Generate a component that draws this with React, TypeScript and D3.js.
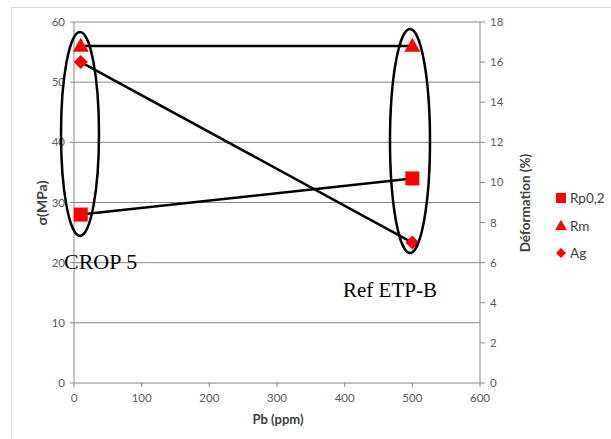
import React from "react";
import * as d3 from "d3";

const pbValues = [10, 500];
const rp02 = [28, 34];
const rm = [56, 56];
const ag = [16, 7];
const xTicks = [0, 100, 200, 300, 400, 500, 600];
const yLeftTicks = [0, 10, 20, 30, 40, 50, 60];
const yRightTicks = [0, 2, 4, 6, 8, 10, 12, 14, 16, 18];
const legendItems = ["Rp0,2", "Rm", "Ag"];

const W = 611, H = 439;
const left = 74, right = 480, top = 22, bottom = 383;
const font = "Lato, 'Open Sans', sans-serif";
const RED = "#ff0000";

export default function App() {
  const x = d3.scaleLinear().domain([0, 600]).range([left, right]);
  const yL = d3.scaleLinear().domain([0, 60]).range([bottom, top]);
  const yR = d3.scaleLinear().domain([0, 18]).range([bottom, top]);
  const line = d3.line<[number, number]>().x(d => d[0]).y(d => d[1]);
  const rpPts = pbValues.map((p, i) => [x(p), yL(rp02[i])] as [number, number]);
  const rmPts = pbValues.map((p, i) => [x(p), yL(rm[i])] as [number, number]);
  const agPts = pbValues.map((p, i) => [x(p), yR(ag[i])] as [number, number]);
  const tri = d3.symbol().type(d3.symbolTriangle).size(110)();
  const dia = (s: number) => `M0,${-s}L${s},0L0,${s}L${-s},0Z`;
  const tickColor = "#595959";
  return (
    <svg width={W} height={H} style={{ position: "absolute", left: 0, top: 0 }}>
      <rect x={0} y={0} width={W} height={H} fill="#fff" />
      <rect x={11.5} y={7.5} width={W} height={H} fill="none" stroke="#d9d9d9" />
      {yLeftTicks.map(t => (
        <line key={"g" + t} x1={left} x2={right} y1={yL(t)} y2={yL(t)} stroke="#868686" strokeWidth={1} />
      ))}
      <line x1={left} x2={left} y1={top} y2={bottom} stroke="#868686" />
      <line x1={right} x2={right} y1={top} y2={bottom} stroke="#868686" />
      {yLeftTicks.map(t => (
        <g key={"l" + t}>
          <line x1={left - 4} x2={left} y1={yL(t)} y2={yL(t)} stroke="#868686" />
          <text x={left - 9} y={yL(t) + 4} textAnchor="end" fontSize={11.5} fontFamily={font} fill={tickColor}>{t}</text>
        </g>
      ))}
      {yRightTicks.map(t => (
        <g key={"r" + t}>
          <line x1={right} x2={right + 5} y1={yR(t)} y2={yR(t)} stroke="#868686" />
          <text x={right + 10} y={yR(t) + 4} textAnchor="start" fontSize={11.5} fontFamily={font} fill={tickColor}>{t}</text>
        </g>
      ))}
      {xTicks.map(t => (
        <g key={"x" + t}>
          <line x1={x(t)} x2={x(t)} y1={bottom} y2={bottom + 4} stroke="#868686" />
          <text x={x(t)} y={bottom + 19} textAnchor="middle" fontSize={11.5} fontFamily={font} fill={tickColor}>{t}</text>
        </g>
      ))}
      <text x={278} y={424} textAnchor="middle" fontSize={13} fontWeight="bold" fontFamily={font} fill="#404040">Pb (ppm)</text>
      <text transform={`translate(47,203) rotate(-90)`} textAnchor="middle" fontSize={14} fontWeight="bold" fontFamily={font} fill="#404040">σ(MPa)</text>
      <text transform={`translate(530,203) rotate(-90)`} textAnchor="middle" fontSize={13.5} fontWeight="bold" fontFamily={font} fill="#404040">Déformation (%)</text>

      <path d={line(rmPts) || ""} stroke="#000" strokeWidth={2.5} fill="none" />
      <path d={line(agPts) || ""} stroke="#000" strokeWidth={2.5} fill="none" />
      <path d={line(rpPts) || ""} stroke="#000" strokeWidth={2.5} fill="none" />

      {rpPts.map((p, i) => (
        <rect key={"rp" + i} x={p[0] - 7} y={p[1] - 7} width={14} height={14} fill={RED} />
      ))}
      {rmPts.map((p, i) => (
        <path key={"rm" + i} d={tri || ""} transform={`translate(${p[0]},${p[1] + 1})`} fill={RED} />
      ))}
      {agPts.map((p, i) => (
        <path key={"ag" + i} d={dia(7)} transform={`translate(${p[0]},${p[1]})`} fill={RED} />
      ))}

      <ellipse cx={80} cy={134} rx={19} ry={102} fill="none" stroke="#000" strokeWidth={2.5} />
      <ellipse cx={410} cy={141} rx={20} ry={112} fill="none" stroke="#000" strokeWidth={2.5} />

      <text x={64} y={269} fontSize={22} fontFamily="'Liberation Serif', 'Times New Roman', serif" fill="#000">CROP 5</text>
      <text x={343} y={297} fontSize={21} fontFamily="'Liberation Serif', 'Times New Roman', serif" fill="#000">Ref ETP-B</text>

      {legendItems.map((name, i) => {
        const cy = 198 + i * 27.5;
        const cx = 561;
        return (
          <g key={name}>
            {i === 0 && <rect x={cx - 5} y={cy - 5} width={10} height={10} fill={RED} />}
            {i === 1 && <path d={d3.symbol().type(d3.symbolTriangle).size(60)() || ""} transform={`translate(${cx},${cy + 1})`} fill={RED} />}
            {i === 2 && <path d={dia(5)} transform={`translate(${cx},${cy})`} fill={RED} />}
            <text x={570} y={cy + 5} fontSize={13.5} fontFamily={font} fill="#404040">{name}</text>
          </g>
        );
      })}
    </svg>
  );
}
